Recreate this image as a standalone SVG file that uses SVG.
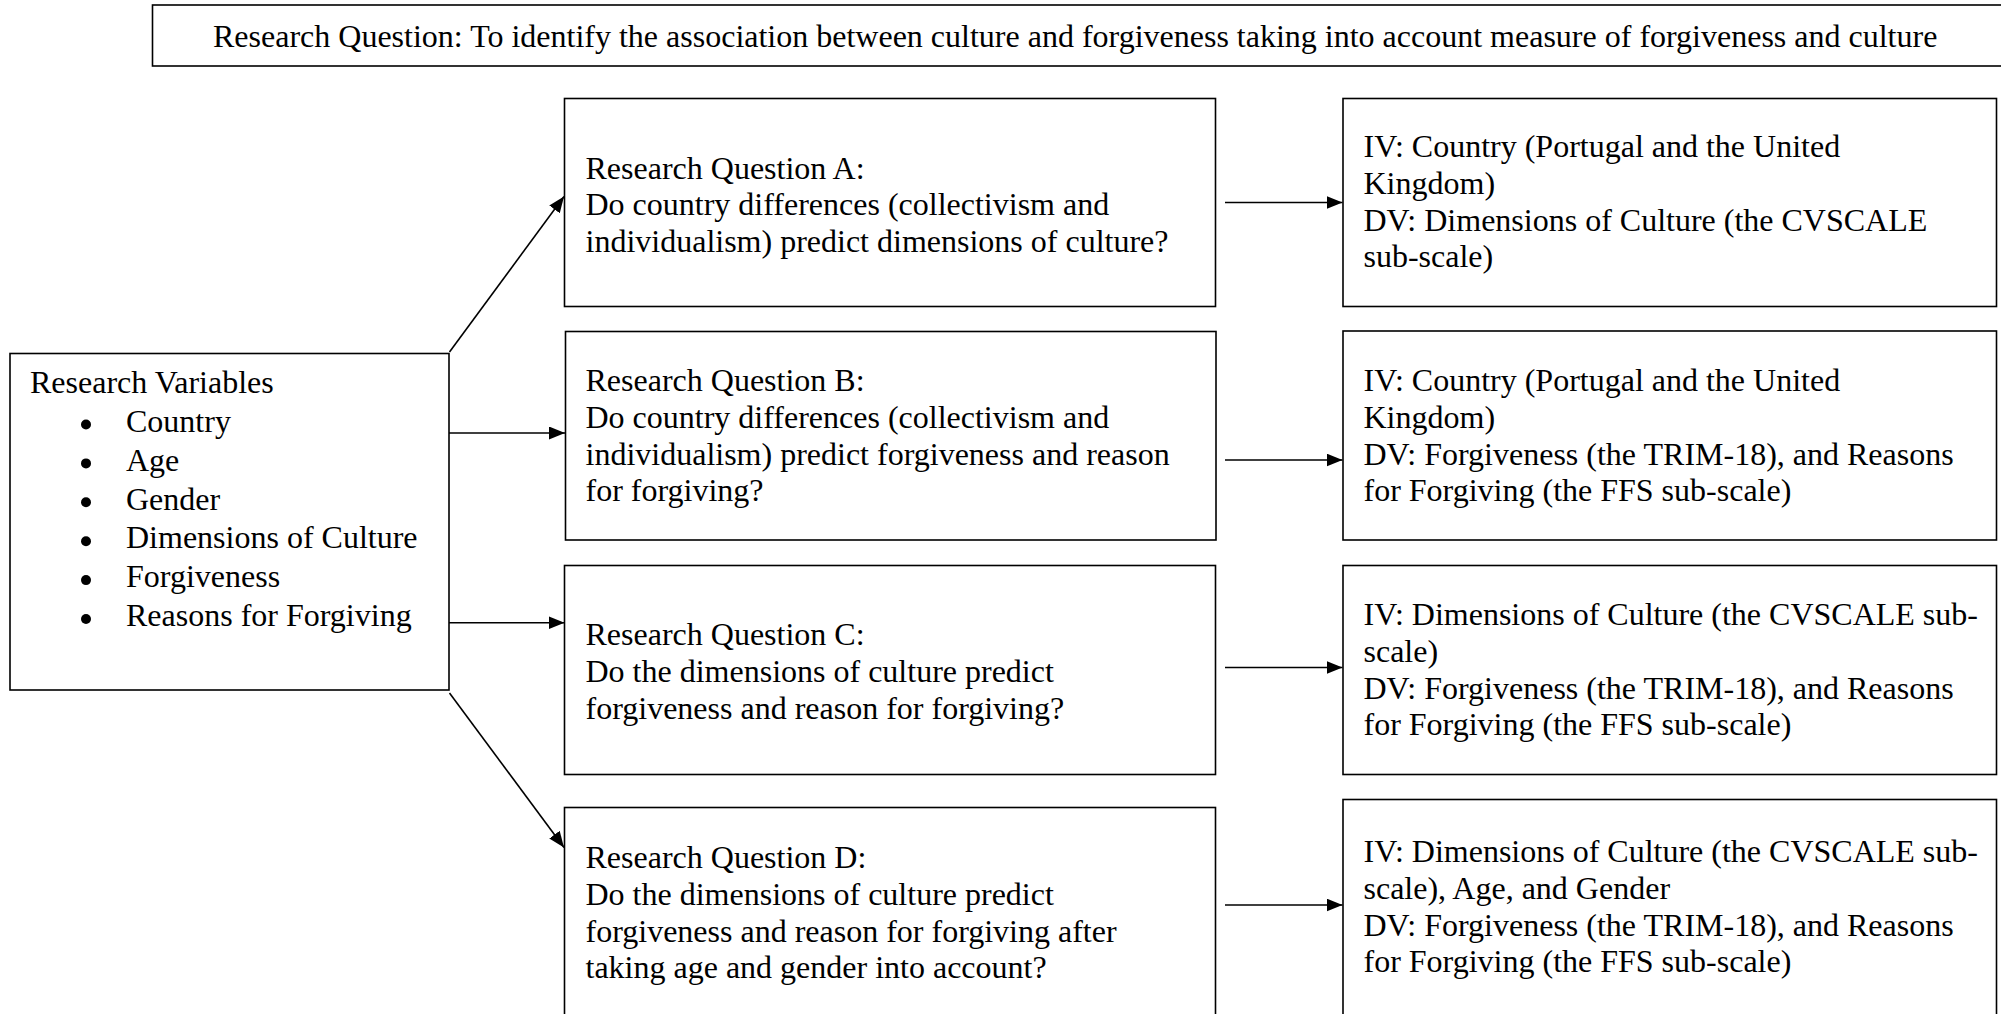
<svg xmlns="http://www.w3.org/2000/svg" width="2001" height="1014" viewBox="0 0 2001 1014">
<defs>
<style>
.box{fill:#fff;stroke:#000;stroke-width:1.6}
.t{font-family:"Liberation Serif","Times New Roman",serif;font-size:32px;fill:#000}
.c{stroke:#000;stroke-width:1.6;fill:none}
.dot{fill:#000}
</style>
<marker id="ah" markerUnits="userSpaceOnUse" viewBox="0 0 16 13" refX="16" refY="6.5" markerWidth="16" markerHeight="13" orient="auto">
<path d="M0,0 L16,6.5 L0,13 z" fill="#000"/>
</marker>
</defs>
<rect width="2001" height="1014" fill="#fff"/>

<g id="main-question">
<rect class="box" x="152.5" y="5" width="1860" height="61"/>
<text class="t" x="213" y="46.5">Research Question: To identify the association between culture and forgiveness taking into account measure of forgiveness and culture</text>
</g>

<g id="research-variables">
<rect class="box" x="10" y="353.5" width="439" height="336.5"/>
<text class="t" x="30" y="393">Research Variables</text>
<circle class="dot" cx="86" cy="424.5" r="5"/>
<circle class="dot" cx="86" cy="463.4" r="5"/>
<circle class="dot" cx="86" cy="502.3" r="5"/>
<circle class="dot" cx="86" cy="541.2" r="5"/>
<circle class="dot" cx="86" cy="580.1" r="5"/>
<circle class="dot" cx="86" cy="619" r="5"/>
<text class="t" x="126" y="431.7">Country</text>
<text class="t" x="126" y="470.6">Age</text>
<text class="t" x="126" y="509.5">Gender</text>
<text class="t" x="126" y="548.4">Dimensions of Culture</text>
<text class="t" x="126" y="587.3">Forgiveness</text>
<text class="t" x="126" y="626.2">Reasons for Forgiving</text>
</g>

<g id="rq-a">
<rect class="box" x="564.5" y="98.5" width="651" height="208"/>
<text class="t" x="585.5" y="178.5">Research Question A:</text>
<text class="t" x="585.5" y="215.3">Do country differences (collectivism and</text>
<text class="t" x="585.5" y="252.1">individualism) predict dimensions of culture?</text>
</g>

<g id="vars-a">
<rect class="box" x="1343" y="98.5" width="653.5" height="208"/>
<text class="t" x="1363.5" y="157">IV: Country (Portugal and the United</text>
<text class="t" x="1363.5" y="193.8">Kingdom)</text>
<text class="t" x="1363.5" y="230.6">DV: Dimensions of Culture (the CVSCALE</text>
<text class="t" x="1363.5" y="267.4">sub-scale)</text>
</g>

<g id="rq-b">
<rect class="box" x="565.5" y="331.5" width="650.5" height="208.5"/>
<text class="t" x="585.5" y="391">Research Question B:</text>
<text class="t" x="585.5" y="427.8">Do country differences (collectivism and</text>
<text class="t" x="585.5" y="464.6">individualism) predict forgiveness and reason</text>
<text class="t" x="585.5" y="501.4">for forgiving?</text>
</g>

<g id="vars-b">
<rect class="box" x="1343" y="331" width="653.5" height="209"/>
<text class="t" x="1363.5" y="391">IV: Country (Portugal and the United</text>
<text class="t" x="1363.5" y="427.8">Kingdom)</text>
<text class="t" x="1363.5" y="464.6">DV: Forgiveness (the TRIM-18), and Reasons</text>
<text class="t" x="1363.5" y="501.4">for Forgiving (the FFS sub-scale)</text>
</g>

<g id="rq-c">
<rect class="box" x="564.5" y="565.5" width="651" height="209"/>
<text class="t" x="585.5" y="645">Research Question C:</text>
<text class="t" x="585.5" y="681.8">Do the dimensions of culture predict</text>
<text class="t" x="585.5" y="718.6">forgiveness and reason for forgiving?</text>
</g>

<g id="vars-c">
<rect class="box" x="1343" y="565.5" width="653.5" height="209"/>
<text class="t" x="1363.5" y="625">IV: Dimensions of Culture (the CVSCALE sub-</text>
<text class="t" x="1363.5" y="661.8">scale)</text>
<text class="t" x="1363.5" y="698.6">DV: Forgiveness (the TRIM-18), and Reasons</text>
<text class="t" x="1363.5" y="735.4">for Forgiving (the FFS sub-scale)</text>
</g>

<g id="rq-d">
<rect class="box" x="564.5" y="807.5" width="651" height="230"/>
<text class="t" x="585.5" y="868">Research Question D:</text>
<text class="t" x="585.5" y="904.8">Do the dimensions of culture predict</text>
<text class="t" x="585.5" y="941.6">forgiveness and reason for forgiving after</text>
<text class="t" x="585.5" y="978.4">taking age and gender into account?</text>
</g>

<g id="vars-d">
<rect class="box" x="1343" y="799.5" width="653.5" height="240"/>
<text class="t" x="1363.5" y="862">IV: Dimensions of Culture (the CVSCALE sub-</text>
<text class="t" x="1363.5" y="898.8">scale), Age, and Gender</text>
<text class="t" x="1363.5" y="935.6">DV: Forgiveness (the TRIM-18), and Reasons</text>
<text class="t" x="1363.5" y="972.4">for Forgiving (the FFS sub-scale)</text>
</g>

<g id="connectors">
<line class="c" x1="449.5" y1="352" x2="564" y2="196.5" marker-end="url(#ah)"/>
<line class="c" x1="449" y1="433" x2="565" y2="433" marker-end="url(#ah)"/>
<line class="c" x1="449" y1="622.7" x2="564.5" y2="622.7" marker-end="url(#ah)"/>
<line class="c" x1="449.5" y1="693" x2="564" y2="847.5" marker-end="url(#ah)"/>
<line class="c" x1="1225" y1="202.5" x2="1342.5" y2="202.5" marker-end="url(#ah)"/>
<line class="c" x1="1225" y1="460" x2="1342.5" y2="460" marker-end="url(#ah)"/>
<line class="c" x1="1225" y1="667.5" x2="1342.5" y2="667.5" marker-end="url(#ah)"/>
<line class="c" x1="1225" y1="905" x2="1342.5" y2="905" marker-end="url(#ah)"/>
</g>
</svg>
